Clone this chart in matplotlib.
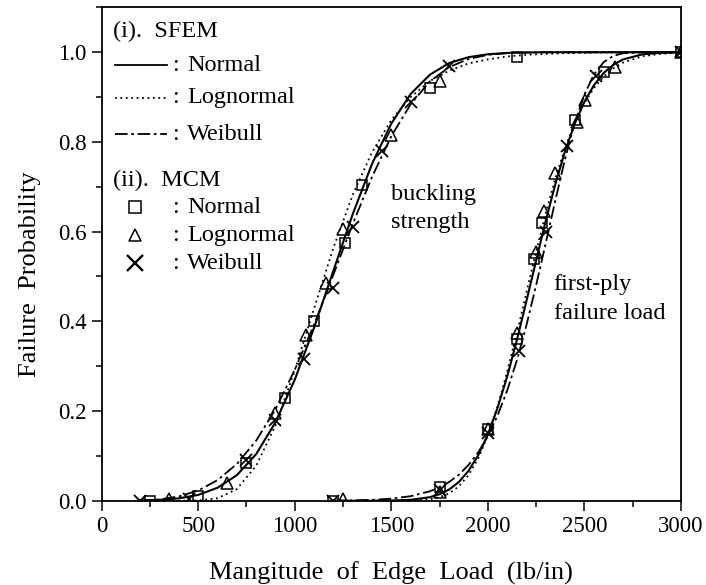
import numpy as np
import matplotlib.pyplot as plt
from matplotlib.ticker import MultipleLocator, FormatStrFormatter

plt.rcParams['font.family'] = ['Liberation Serif', 'DejaVu Serif']

# SFEM distribution curves, buckling strength
buck_x = [200, 300, 400, 500, 600, 700, 800, 900, 1000, 1100, 1200, 1300, 1400, 1500,
          1600, 1700, 1800, 1900, 2000, 2100, 2200, 2300, 2400, 2500, 2600, 2700, 2800,
          2900, 3000]
buck_normal = [0.0007, 0.002, 0.0054, 0.013, 0.029, 0.057, 0.104, 0.175, 0.270, 0.386,
               0.513, 0.639, 0.751, 0.841, 0.907, 0.950, 0.976, 0.989, 0.9955, 0.9984,
               0.9994, 1.0, 1.0, 1.0, 1.0, 1.0, 1.0, 1.0, 1.0]
buck_lognormal = [0.0, 0.0, 0.00002, 0.0006, 0.0055, 0.026, 0.078, 0.168, 0.291, 0.429,
                  0.564, 0.682, 0.777, 0.849, 0.900, 0.936, 0.959, 0.975, 0.984, 0.9905,
                  0.9942, 0.9965, 0.9979, 0.9987, 0.9992, 0.9995, 0.9997, 0.9998, 0.9999]
buck_weibull = [0.0006, 0.003, 0.0097, 0.0228, 0.046, 0.082, 0.134, 0.204, 0.292, 0.393,
                0.504, 0.617, 0.722, 0.813, 0.884, 0.935, 0.967, 0.985, 0.9942, 0.998,
                0.9994, 1.0, 1.0, 1.0, 1.0, 1.0, 1.0, 1.0, 1.0]

# SFEM distribution curves, first-ply failure load
ply_x = [1200, 1300, 1400, 1500, 1600, 1700, 1750, 1800, 1850, 1900, 1950, 2000, 2050,
         2100, 2150, 2200, 2250, 2300, 2350, 2400, 2450, 2500, 2550, 2600, 2650, 2700,
         2800, 2900, 3000]
ply_normal = [0.0, 0.0, 0.0001, 0.0005, 0.0021, 0.008, 0.0146, 0.0253, 0.042, 0.0668,
              0.1016, 0.148, 0.207, 0.277, 0.358, 0.446, 0.536, 0.625, 0.707, 0.780,
              0.841, 0.890, 0.927, 0.954, 0.972, 0.984, 0.9952, 0.9988, 0.9998]
ply_lognormal = [0.0, 0.0, 0.0, 0.0, 0.0005, 0.0034, 0.0079, 0.0167, 0.0323, 0.0574,
                 0.0946, 0.1455, 0.2104, 0.288, 0.374, 0.465, 0.556, 0.642, 0.720, 0.787,
                 0.843, 0.887, 0.921, 0.946, 0.964, 0.977, 0.991, 0.9967, 0.9989]
ply_weibull = [0.0003, 0.0008, 0.002, 0.0047, 0.0102, 0.0212, 0.030, 0.042, 0.058, 0.080,
               0.108, 0.144, 0.190, 0.246, 0.313, 0.392, 0.481, 0.575, 0.671, 0.763,
               0.843, 0.906, 0.951, 0.978, 0.992, 0.9977, 1.0, 1.0, 1.0]

# MCM samples, buckling strength
mcm_buck_normal_x = [250, 500, 750, 950, 1100, 1260, 1350, 1700, 2150]
mcm_buck_normal_y = [0.0, 0.01, 0.085, 0.23, 0.40, 0.575, 0.705, 0.92, 0.99]
mcm_buck_lognormal_x = [350, 650, 900, 1060, 1160, 1250, 1500, 1750]
mcm_buck_lognormal_y = [0.003, 0.04, 0.195, 0.37, 0.485, 0.605, 0.815, 0.935]
mcm_buck_weibull_x = [200, 450, 750, 900, 1050, 1200, 1300, 1450, 1600, 1800]
mcm_buck_weibull_y = [0.0, 0.005, 0.09, 0.18, 0.315, 0.475, 0.61, 0.78, 0.89, 0.97]

# MCM samples, first-ply failure load
mcm_ply_normal_x = [1200, 1750, 2000, 2150, 2240, 2280, 2450, 2600, 3000]
mcm_ply_normal_y = [0.0, 0.03, 0.16, 0.36, 0.54, 0.62, 0.85, 0.955, 1.0]
mcm_ply_lognormal_x = [1250, 1750, 2000, 2150, 2250, 2290, 2350, 2460, 2505, 2660, 3000]
mcm_ply_lognormal_y = [0.003, 0.02, 0.16, 0.375, 0.555, 0.645, 0.73, 0.845, 0.893, 0.967, 1.0]
mcm_ply_weibull_x = [1200, 1750, 2000, 2160, 2300, 2410, 2560, 3000]
mcm_ply_weibull_y = [0.0, 0.025, 0.15, 0.335, 0.60, 0.79, 0.948, 1.0]

dotted = (0, (1, 2))
dashdot = (0, (7, 2, 1.5, 2))

fig = plt.figure(figsize=(7.06, 5.85), dpi=100)
ax = fig.add_axes([0.144, 0.144, 0.8206, 0.8434])

for xs, n, ln, wb in [(buck_x, buck_normal, buck_lognormal, buck_weibull),
                      (ply_x, ply_normal, ply_lognormal, ply_weibull)]:
    ax.plot(xs, n, color='black', lw=1.5, ls='-')
    ax.plot(xs, ln, color='black', lw=1.3, ls=dotted)
    ax.plot(xs, wb, color='black', lw=1.3, ls=dashdot)

mk = dict(color='black', ls='none', mfc='none', mec='black', zorder=5)
ax.plot(mcm_buck_normal_x, mcm_buck_normal_y, marker='s', ms=7.5, mew=1.1, **mk)
ax.plot(mcm_ply_normal_x, mcm_ply_normal_y, marker='s', ms=7.5, mew=1.1, **mk)
ax.plot(mcm_buck_lognormal_x, mcm_buck_lognormal_y, marker='^', ms=9, mew=1.1, **mk)
ax.plot(mcm_ply_lognormal_x, mcm_ply_lognormal_y, marker='^', ms=9, mew=1.1, **mk)
ax.plot(mcm_buck_weibull_x, mcm_buck_weibull_y, marker='x', ms=9, mew=1.3, **mk)
ax.plot(mcm_ply_weibull_x, mcm_ply_weibull_y, marker='x', ms=9, mew=1.3, **mk)

ax.set_xlim(0, 3000)
ax.set_ylim(0, 1.1)
ax.xaxis.set_major_locator(MultipleLocator(500))
ax.xaxis.set_minor_locator(MultipleLocator(250))
ax.yaxis.set_major_locator(MultipleLocator(0.2))
ax.yaxis.set_minor_locator(MultipleLocator(0.1))
ax.yaxis.set_major_formatter(FormatStrFormatter('%.1f'))
ax.tick_params(which='both', direction='out', top=False, right=False, width=1.1,
               labelsize=16.5)
ax.tick_params(which='major', length=7, pad=4)
ax.tick_params(which='minor', length=4)
for s in ax.spines.values():
    s.set_linewidth(1.3)

ax.set_xlabel('Mangitude  of  Edge  Load  (lb/in)', fontsize=19, labelpad=18)
ax.set_ylabel('Failure  Probability', fontsize=19, labelpad=12)
ax.yaxis.label.set_y(0.46)

# hand-made key in the upper left corner
fs = 17.5
ax.text(58, 1.047, '(i).  SFEM', fontsize=fs, va='center')
rows = [(0.971, 'Normal', '-'), (0.899, 'Lognormal', dotted), (0.817, 'Weibull', dashdot)]
for y, name, style in rows:
    ax.plot([69, 339], [y, y], color='black', lw=1.3, ls=style)
    ax.text(364, y, ':', fontsize=fs, va='center')
    ax.text(442, y, name, fontsize=fs, va='center')
ax.text(58, 0.714, '(ii).  MCM', fontsize=fs, va='center')
rows = [(0.654, 'Normal', 's', 9, 1.1), (0.592, 'Lognormal', '^', 8, 1.1),
        (0.529, 'Weibull', 'x', 11, 1.7)]
for y, name, m, size, width in rows:
    ax.plot([173], [y], marker=m, ms=size, mew=width, mfc='none', mec='black', ls='none')
    ax.text(364, y, ':', fontsize=fs, va='center')
    ax.text(442, y, name, fontsize=fs, va='center')

ax.text(1500, 0.652, 'buckling\nstrength', fontsize=fs, va='center', linespacing=1.45)
ax.text(2340, 0.45, 'first-ply\nfailure load', fontsize=fs, va='center', linespacing=1.45)

fig.savefig('out.png', dpi=100)
